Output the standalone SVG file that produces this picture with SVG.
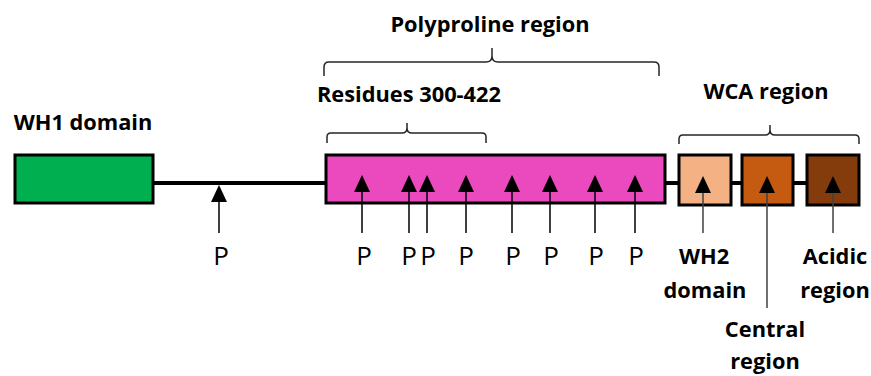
<svg xmlns="http://www.w3.org/2000/svg" width="871" height="376" viewBox="0 0 871 376">
<style>
.box{stroke:#000;stroke-width:3}
.lbl{font-family:"Open Sans","Liberation Sans",sans-serif;font-weight:bold;font-size:21.8px;fill:#000;text-anchor:middle}
.p{font-family:"Open Sans","Liberation Sans",sans-serif;font-size:26px;fill:#000;text-anchor:middle}
.arr{stroke:#000;stroke-width:1.5;fill:none;marker-end:url(#ah)}
.arrg{stroke:#404040;stroke-width:1.5;fill:none;marker-end:url(#ah)}
.br{stroke:#262626;stroke-width:1.5;fill:none}
.bb{stroke:#000;stroke-width:4;fill:none}
</style>
<defs>
<marker id="ah" markerUnits="userSpaceOnUse" viewBox="0 0 17 16" refX="5" refY="8" markerWidth="17" markerHeight="16" orient="auto">
<path d="M0,0 L17,8 L0,16 Z" fill="#000"/>
</marker>
</defs>
<rect width="871" height="376" fill="#fff"/>
<g id="wh1">
<rect class="box" x="15" y="155" width="138" height="48" fill="#00B050"/>
<text class="lbl" x="83" y="130">WH1 domain</text>
</g>
<g id="polyproline">
<rect class="box" x="326" y="155" width="339" height="48" fill="#EA4ABD"/>
<path class="br" d="M324,76 L324,67 Q324,62 329,62 L486,62 Q492,62 492,56 L492,48 M492,56 Q492,62 498,62 L654,62 Q659,62 659,67 L659,76"/>
<text class="lbl" x="490" y="32">Polyproline region</text>
<path class="br" d="M327,143 L327,137 Q327,133 331,133 L402,133 Q407,133 407,128 L407,123 M407,128 Q407,133 412,133 L482,133 Q486,133 486,137 L486,143"/>
<text class="lbl" x="409" y="102">Residues 300-422</text>
</g>
<g id="p-sites">
<text class="p" x="221" y="265">P</text>
<text class="p" x="364" y="265">P</text>
<text class="p" x="409" y="265">P</text>
<text class="p" x="428" y="265">P</text>
<text class="p" x="466" y="265">P</text>
<text class="p" x="513" y="265">P</text>
<text class="p" x="551" y="265">P</text>
<text class="p" x="596" y="265">P</text>
<text class="p" x="636" y="265">P</text>
</g>
<g id="wca">
<path class="br" d="M679,144 L679,139 Q679,135 683,135 L765,135 Q770,135 770,130 L770,125 M770,130 Q770,135 775,135 L855,135 Q859,135 859,139 L859,144"/>
<text class="lbl" x="766" y="99">WCA region</text>
</g>
<g id="wh2">
<rect class="box" x="679" y="155" width="52" height="50" fill="#F4B183"/>
<text class="lbl" x="704" y="264">WH2</text>
<text class="lbl" x="705" y="298">domain</text>
</g>
<g id="central">
<rect class="box" x="742" y="155" width="51" height="50" fill="#C55A11"/>
<text class="lbl" x="765" y="337">Central</text>
<text class="lbl" x="765" y="369">region</text>
</g>
<g id="acidic">
<rect class="box" x="807" y="155" width="52" height="50" fill="#843C0C"/>
<text class="lbl" x="835" y="264">Acidic</text>
<text class="lbl" x="835" y="298">region</text>
</g>
<g id="connectors">
<line class="bb" x1="154" y1="183" x2="325" y2="183"/>
<line class="bb" x1="666" y1="183" x2="678" y2="183"/>
<line class="bb" x1="732" y1="183" x2="741" y2="183"/>
<line class="bb" x1="794" y1="183" x2="806" y2="183"/>
<line class="arr" x1="219" y1="233" x2="219" y2="197"/>
<line class="arr" x1="362" y1="233" x2="362" y2="187"/>
<line class="arr" x1="409" y1="233" x2="409" y2="187"/>
<line class="arr" x1="427" y1="233" x2="427" y2="187"/>
<line class="arr" x1="466" y1="233" x2="466" y2="187"/>
<line class="arr" x1="512" y1="233" x2="512" y2="187"/>
<line class="arr" x1="550" y1="233" x2="550" y2="187"/>
<line class="arr" x1="595" y1="233" x2="595" y2="187"/>
<line class="arr" x1="635" y1="233" x2="635" y2="187"/>
<line class="arrg" x1="703" y1="233" x2="703" y2="188"/>
<line class="arrg" x1="767" y1="308" x2="767" y2="188"/>
<line class="arrg" x1="833" y1="233" x2="833" y2="188"/>
</g>
</svg>
